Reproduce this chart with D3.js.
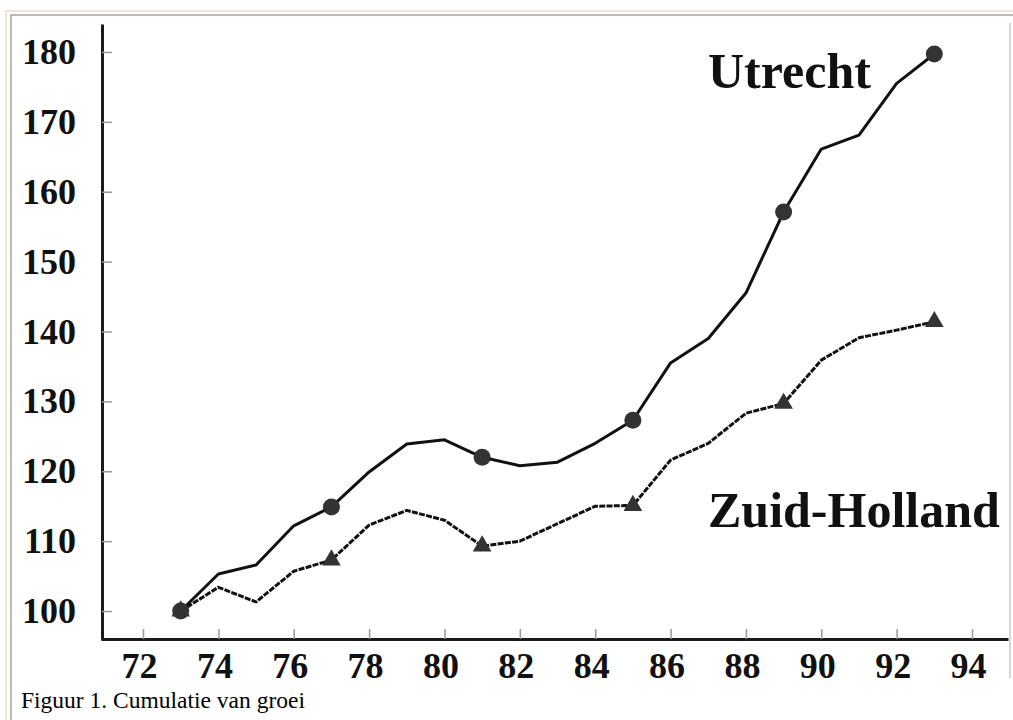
<!DOCTYPE html>
<html>
<head>
<meta charset="utf-8">
<script src="https://cdn.jsdelivr.net/npm/d3@7"></script>
<style>
  body { margin: 0; background: #fff; }
  svg { display: block; }
</style>
</head>
<body>
<script>
// data (index, 1973 = 100)
var years = [73, 74, 75, 76, 77, 78, 79, 80, 81, 82, 83, 84, 85, 86, 87, 88, 89, 90, 91, 92, 93];
var utrecht = [100, 105.3, 106.6, 112.2, 114.9, 119.9, 123.9, 124.5, 122.0, 120.8, 121.3, 124.0, 127.3, 135.5, 139.0, 145.5, 157.1, 166.1, 168.1, 175.5, 179.7];
var zuidHolland = [100, 103.4, 101.3, 105.7, 107.3, 112.3, 114.4, 113.0, 109.3, 110.0, 112.5, 115.0, 115.1, 121.6, 124.0, 128.3, 129.7, 135.9, 139.1, 140.2, 141.4];
var markerYears = [73, 77, 81, 85, 89, 93];
var xTicks = [72, 74, 76, 78, 80, 82, 84, 86, 88, 90, 92, 94];
var yTicks = [100, 110, 120, 130, 140, 150, 160, 170, 180];

var width = 1013, height = 720;

var svg = d3.select("body")
            .append("svg")
            .attr("width", width)
            .attr("height", height);

// page frame around the figure
svg.append("path")
    .attr("d", "M6,720V11H1013")
    .attr("fill", "none")
    .attr("stroke", "#ebe7d6")
    .attr("stroke-width", 2);
svg.append("path")
    .attr("d", "M11,720V15H1013")
    .attr("fill", "none")
    .attr("stroke", "#a8a8a0")
    .attr("stroke-width", 1.5);
svg.append("line")
    .attr("x1", 1010).attr("x2", 1010)
    .attr("y1", 23).attr("y2", 678)
    .attr("stroke", "#c8c8c8")
    .attr("stroke-width", 1.5);

var g = svg.append("g");

var x = d3.scaleLinear()
        .domain([70.885, 94.955])
        .range([101, 1008]);

var y = d3.scaleLinear()
        .domain([96, 184])
        .range([639, 24]);

var font = "'Liberation Serif', 'Times New Roman', serif";

var xAxis = g.append("g")
    .attr("transform", "translate(0,639)")
    .call(d3.axisBottom(x).tickValues(xTicks).tickSizeInner(-10).tickSizeOuter(0).tickPadding(13));
xAxis.select(".domain").attr("stroke", "#1a1a1a").attr("stroke-width", 3);
xAxis.selectAll(".tick line").attr("stroke", "#999").attr("stroke-width", 1.5);
xAxis.selectAll(".tick text")
    .attr("x", -4)
    .style("font-family", font)
    .style("font-weight", "bold")
    .style("font-size", "36px")
    .attr("fill", "#111");

var yAxis = g.append("g")
    .attr("transform", "translate(102,0)")
    .call(d3.axisLeft(y).tickValues(yTicks).tickSizeInner(-10).tickSizeOuter(0).tickPadding(26));
yAxis.select(".domain").attr("stroke", "#1a1a1a").attr("stroke-width", 3);
yAxis.selectAll(".tick line").attr("stroke", "#999").attr("stroke-width", 1.5);
yAxis.selectAll(".tick text")
    .style("font-family", font)
    .style("font-weight", "bold")
    .style("font-size", "36px")
    .attr("fill", "#111");

var line = d3.line()
    .x((d, i) => x(years[i]))
    .y(d => y(d));

g.append("path")
    .datum(zuidHolland)
    .attr("d", line)
    .attr("fill", "none")
    .attr("stroke", "#111")
    .attr("stroke-width", 3)
    .attr("stroke-dasharray", "6,1.3")
    .attr("stroke-linejoin", "round");

g.append("path")
    .datum(utrecht)
    .attr("d", line)
    .attr("fill", "none")
    .attr("stroke", "#111")
    .attr("stroke-width", 3)
    .attr("stroke-linejoin", "round");

var zhMarks = markerYears.map(yr => [yr, zuidHolland[years.indexOf(yr)]]);
var utMarks = markerYears.map(yr => [yr, utrecht[years.indexOf(yr)]]);

g.selectAll(".tri")
    .data(zhMarks)
    .join("path")
    .attr("class", "tri")
    .attr("transform", d => "translate(" + x(d[0]) + "," + y(d[1]) + ")")
    .attr("d", d3.symbol(d3.symbolTriangle, 150))
    .attr("fill", "#333");

g.selectAll(".dot")
    .data(utMarks)
    .join("circle")
    .attr("class", "dot")
    .attr("cx", d => x(d[0]))
    .attr("cy", d => y(d[1]))
    .attr("r", 8.5)
    .attr("fill", "#333");

g.append("text")
    .attr("x", 708)
    .attr("y", 88)
    .style("font-family", font)
    .style("font-weight", "bold")
    .style("font-size", "50px")
    .attr("fill", "#111")
    .text("Utrecht");

g.append("text")
    .attr("x", 708)
    .attr("y", 527)
    .style("font-family", font)
    .style("font-weight", "bold")
    .style("font-size", "50px")
    .attr("fill", "#111")
    .text("Zuid-Holland");

svg.append("text")
    .attr("x", 21)
    .attr("y", 708)
    .style("font-family", font)
    .style("font-size", "23.5px")
    .attr("fill", "#000")
    .text("Figuur 1. Cumulatie van groei");
</script>
</body>
</html>
